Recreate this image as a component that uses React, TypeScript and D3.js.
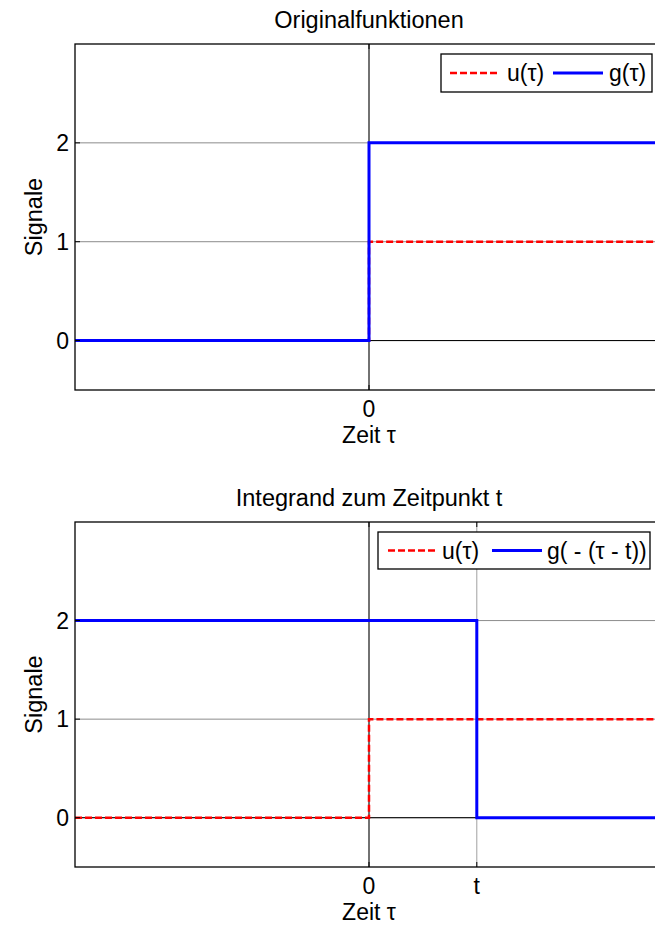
import React, { useRef, useEffect } from 'react';
import * as d3 from 'd3';

// step signals, sampled at the jump points
const tauU = [-3, 0, 0, 3];
const uValues = [0, 0, 1, 1];
const tauG = [-3, 0, 0, 3];
const gValues = [0, 0, 2, 2];
const tShift = 1.1;
const tauGShift = [-3, tShift, tShift, 3];
const gShiftValues = [2, 2, 0, 0];

const yTicks = [0, 1, 2];
const xTicksTop = [0];
const xTickLabelsTop = ['0'];
const xTicksBottom = [0, tShift];
const xTickLabelsBottom = ['0', 't'];

const titles = ['Originalfunktionen', 'Integrand zum Zeitpunkt t'];
const legendLabels = [
    ['u(τ)', 'g(τ)'],
    ['u(τ)', 'g( - (τ - t))'],
];

const FONT = '"Liberation Sans", Arial, Helvetica, sans-serif';

export default function App() {
    const svgRef = useRef<SVGSVGElement>(null);

    useEffect(() => {
        if (!svgRef.current) return;
        const width = 655;
        const height = 925;
        const left = 75;
        const right = 663;

        const svg = d3.select(svgRef.current)
            .attr('width', width)
            .attr('height', height)
            .attr('viewBox', `0 0 ${width} ${height}`);
        svg.selectAll('*').remove();
        svg.append('rect').attr('width', width).attr('height', height).attr('fill', 'white');

        const panels = [
            {
                top: 44, bottom: 390, xt: xTicksTop, xl: xTickLabelsTop,
                u: { x: tauU, y: uValues }, g: { x: tauG, y: gValues },
                legend: { x0: 441, x1: 652, y0: 54, y1: 92, red: [450, 498], uText: 507, blue: [553, 603], gText: 609 },
            },
            {
                top: 522, bottom: 867, xt: xTicksBottom, xl: xTickLabelsBottom,
                u: { x: tauU, y: uValues }, g: { x: tauGShift, y: gShiftValues },
                legend: { x0: 378, x1: 650, y0: 532, y1: 569, red: [388, 435], uText: 442, blue: [492, 542], gText: 547 },
            },
        ];

        panels.forEach((p, i) => {
            const x = d3.scaleLinear().domain([-3, 3]).range([left, right]);
            const y = d3.scaleLinear().domain([-0.5, 3]).range([p.bottom, p.top]);
            const g = svg.append('g');

            const clipId = `clip${i}`;
            svg.append('defs').append('clipPath').attr('id', clipId)
                .append('rect').attr('x', left).attr('y', p.top)
                .attr('width', right - left).attr('height', p.bottom - p.top);

            // grid
            g.selectAll('.hgrid').data(yTicks).join('line')
                .attr('x1', left).attr('x2', right)
                .attr('y1', d => y(d)).attr('y2', d => y(d))
                .attr('stroke', '#8c8c8c').attr('stroke-width', 1);
            g.selectAll('.vgrid').data(p.xt).join('line')
                .attr('x1', d => x(d)).attr('x2', d => x(d))
                .attr('y1', p.top).attr('y2', p.bottom)
                .attr('stroke', '#a0a0a0').attr('stroke-width', 1);

            // zero lines
            g.append('line').attr('x1', left).attr('x2', right)
                .attr('y1', y(0)).attr('y2', y(0)).attr('stroke', 'black').attr('stroke-width', 1);
            g.append('line').attr('x1', x(0)).attr('x2', x(0))
                .attr('y1', p.top).attr('y2', p.bottom).attr('stroke', '#404040').attr('stroke-width', 1.3);

            const lineU = d3.line<number>().x((_, k) => x(p.u.x[k])).y(d => y(d));
            const lineG = d3.line<number>().x((_, k) => x(p.g.x[k])).y(d => y(d));

            const plot = g.append('g').attr('clip-path', `url(#${clipId})`);
            plot.append('path').datum(p.u.y).attr('d', lineU)
                .attr('fill', 'none').attr('stroke', '#ff0000').attr('stroke-width', 2.5)
                .attr('stroke-dasharray', '7,3');
            plot.append('path').datum(p.g.y).attr('d', lineG)
                .attr('fill', 'none').attr('stroke', '#0000ff').attr('stroke-width', 3);

            // axes box
            g.append('rect').attr('x', left).attr('y', p.top)
                .attr('width', right - left).attr('height', p.bottom - p.top)
                .attr('fill', 'none').attr('stroke', 'black').attr('stroke-width', 1.3);

            // ticks
            yTicks.forEach(t => {
                g.append('line').attr('x1', left).attr('x2', left + 5)
                    .attr('y1', y(t)).attr('y2', y(t)).attr('stroke', 'black');
                g.append('text').attr('x', left - 6).attr('y', y(t))
                    .attr('text-anchor', 'end').attr('dominant-baseline', 'central')
                    .attr('font-family', FONT).attr('font-size', 23).text(String(t));
            });
            p.xt.forEach((t, k) => {
                g.append('line').attr('x1', x(t)).attr('x2', x(t))
                    .attr('y1', p.bottom).attr('y2', p.bottom - 5).attr('stroke', 'black');
                g.append('line').attr('x1', x(t)).attr('x2', x(t))
                    .attr('y1', p.top).attr('y2', p.top + 5).attr('stroke', 'black');
                g.append('text').attr('x', x(t)).attr('y', p.bottom + 27)
                    .attr('text-anchor', 'middle')
                    .attr('font-family', FONT).attr('font-size', 23).text(p.xl[k]);
            });

            // labels
            g.append('text').attr('x', x(0)).attr('y', p.bottom + 53)
                .attr('text-anchor', 'middle')
                .attr('font-family', FONT).attr('font-size', 23).text('Zeit τ');
            g.append('text')
                .attr('transform', `translate(42,${(p.top + p.bottom) / 2}) rotate(-90)`)
                .attr('text-anchor', 'middle')
                .attr('font-family', FONT).attr('font-size', 23.5).text('Signale');
            g.append('text').attr('x', (left + right) / 2).attr('y', p.top - 16)
                .attr('text-anchor', 'middle')
                .attr('font-family', FONT).attr('font-size', 23.5).text(titles[i]);

            // legend
            const L = p.legend;
            const ly = (L.y0 + L.y1) / 2;
            g.append('rect').attr('x', L.x0).attr('y', L.y0)
                .attr('width', L.x1 - L.x0).attr('height', L.y1 - L.y0)
                .attr('fill', 'white').attr('stroke', 'black').attr('stroke-width', 1.3);
            g.append('line').attr('x1', L.red[0]).attr('x2', L.red[1]).attr('y1', ly).attr('y2', ly)
                .attr('stroke', '#ff0000').attr('stroke-width', 2.5).attr('stroke-dasharray', '7,3');
            g.append('line').attr('x1', L.blue[0]).attr('x2', L.blue[1]).attr('y1', ly).attr('y2', ly)
                .attr('stroke', '#0000ff').attr('stroke-width', 3);
            g.append('text').attr('x', L.uText).attr('y', ly).attr('dominant-baseline', 'central')
                .attr('font-family', FONT).attr('font-size', 23).text(legendLabels[i][0]);
            g.append('text').attr('x', L.gText).attr('y', ly).attr('dominant-baseline', 'central')
                .attr('font-family', FONT).attr('font-size', 23).text(legendLabels[i][1]);
        });
    }, []);

    return (
        <svg ref={svgRef} style={{ position: 'absolute', left: 0, top: 0, display: 'block' }} />
    );
}
